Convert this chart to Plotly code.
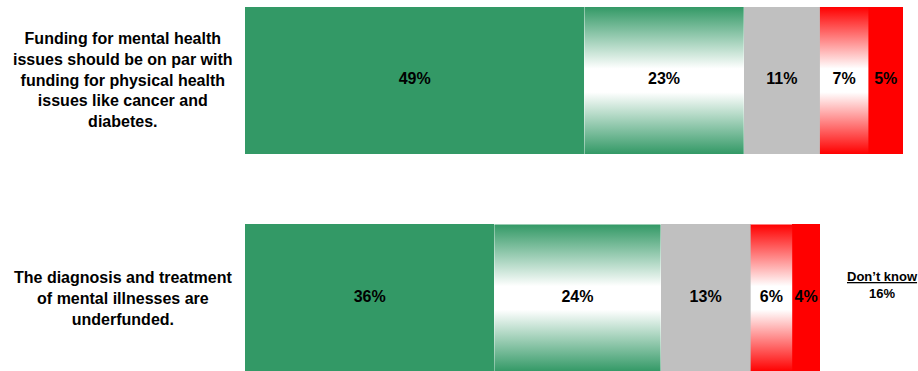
import plotly.graph_objects as go

# Survey statements (top to bottom) and response shares in percent
statements = [
    "Funding for mental health<br>issues should be on par with<br>funding for physical health<br>issues like cancer and<br>diabetes.",
    "The diagnosis and treatment<br>of mental illnesses are<br>underfunded.",
]
strongly_agree = [49, 36]
somewhat_agree = [23, 24]
neutral = [11, 13]
somewhat_disagree = [7, 6]
strongly_disagree = [5, 4]
dont_know = [None, 16]

GREEN = "#339966"
GREY = "#C0C0C0"
RED = "#FF0000"

ypos = [1, 0]          # numeric row positions, top row first
bar_w = 0.676

segments = [
    (strongly_agree, "solid", GREEN),
    (somewhat_agree, "gradient", GREEN),
    (neutral, "solid", GREY),
    (somewhat_disagree, "gradient", RED),
    (strongly_disagree, "solid", RED),
]

fig = go.Figure()
label_x, label_y, label_t = [], [], []
bases = [0.0 for _ in ypos]

for values, style, color in segments:
    if style == "solid":
        fig.add_trace(go.Bar(
            orientation="h", y=ypos, x=values, base=bases[:],
            width=bar_w, marker=dict(color=color, line=dict(width=0)),
            hoverinfo="skip", showlegend=False,
        ))
    else:
        for i, yc in enumerate(ypos):
            x0, x1 = bases[i], bases[i] + values[i]
            y0, y1 = yc - bar_w / 2, yc + bar_w / 2
            fig.add_trace(go.Scatter(
                x=[x0, x1, x1, x0, x0], y=[y0, y0, y1, y1, y0],
                mode="lines", fill="toself", line=dict(width=0),
                fillgradient=dict(
                    type="vertical",
                    colorscale=[[0, color], [0.42, "white"], [0.58, "white"], [1, color]],
                ),
                hoverinfo="skip", showlegend=False,
            ))
    for i, yc in enumerate(ypos):
        label_x.append(bases[i] + values[i] / 2)
        label_y.append(yc)
        label_t.append(f"<b>{values[i]}%</b>")
        bases[i] += values[i]

# Percentage labels on every segment
fig.add_trace(go.Scatter(
    x=label_x, y=label_y, text=label_t, mode="text",
    textfont=dict(family="Liberation Sans, Arial, sans-serif", size=16, color="black"),
    hoverinfo="skip", showlegend=False,
))

# Statement labels to the left of the bars
for s, yc in zip(statements, ypos):
    fig.add_annotation(
        xref="paper", yref="y", x=-0.182, y=yc, text=f"<b>{s}</b>",
        showarrow=False, xanchor="center", yanchor="middle", align="center",
        font=dict(family="Liberation Sans, Arial, sans-serif", size=16, color="black"),
    )

# "Don't know" share shown beside the bar
for i, yc in enumerate(ypos):
    if dont_know[i] is not None:
        fig.add_annotation(
            xref="x", yref="y", x=92.0, y=yc + 0.062,
            text=f"<b><u>Don’t know</u><br>{dont_know[i]}%</b>",
            showarrow=False, xanchor="center", yanchor="middle", align="center",
            font=dict(family="Liberation Sans, Arial, sans-serif", size=13, color="black"),
        )

fig.update_layout(
    width=918, height=371,
    margin=dict(l=245, r=0, t=0, b=0),
    paper_bgcolor="white", plot_bgcolor="white",
    barmode="overlay", bargap=0,
    xaxis=dict(range=[0, 97.16], visible=False, fixedrange=True),
    yaxis=dict(range=[-0.3356, 1.370], visible=False, fixedrange=True),
)

fig.write_html("out.html")
